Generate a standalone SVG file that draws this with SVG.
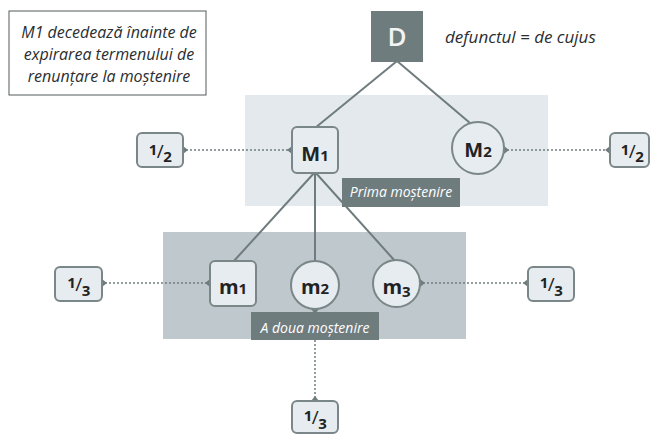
<svg xmlns="http://www.w3.org/2000/svg" width="650" height="434" viewBox="0 0 650 434">
<defs>
<style>
.panel1{fill:#e3e9ec}
.panel2{fill:#bfc8cc}
.edge{stroke:#6f7c7e;stroke-width:2;fill:none}
.dot{stroke:#6f7c7e;stroke-width:2;fill:none;stroke-dasharray:0 4;stroke-linecap:round;marker-start:url(#port);marker-end:url(#port)}
.node{fill:#e6ecef;stroke:#7a8688;stroke-width:2}
.nt{font-family:"Open Sans",Lato,"Liberation Sans",sans-serif;font-weight:bold;font-size:20px;fill:#1f2324;text-anchor:middle}
.frac{font-family:"Open Sans",Lato,"Liberation Sans",sans-serif;font-weight:bold;font-size:15px;fill:#1f2324;text-anchor:middle;letter-spacing:-0.5px}
.lab{fill:#6f7c7e}
.lt{font-family:"Open Sans",Lato,"Liberation Sans",sans-serif;font-style:italic;font-size:14px;fill:#ffffff;text-anchor:middle}
.it{font-family:"Open Sans",Lato,"Liberation Sans",sans-serif;font-style:italic;font-size:16px;fill:#2a2e30}
.it17{font-size:17px}
</style>
<marker id="port" viewBox="-5 -4 10 8" markerWidth="10" markerHeight="8" markerUnits="userSpaceOnUse" refX="0" refY="0" orient="auto">
<path d="M-5,0 L0,-4 L5,0 L0,4 Z" fill="#6f7c7e"/>
</marker>
</defs>

<g id="panels">
<rect class="panel1" x="245" y="95" width="303" height="111"/>
<rect class="panel2" x="163" y="232" width="303" height="107"/>
</g>

<g id="note">
<rect x="9" y="11" width="197" height="84" fill="#ffffff" stroke="#555b5d" stroke-width="1"/>
<text class="it" x="109" text-anchor="middle"><tspan x="109" y="38">M1 decedează înainte de</tspan><tspan x="109" y="60">expirarea termenului de</tspan><tspan x="109" y="82">renunțare la moștenire</tspan></text>
</g>

<g id="legend">
<text class="it it17" x="445" y="43">defunctul = de cujus</text>
</g>

<g id="connectors">
<line class="edge" x1="397" y1="61" x2="315" y2="128"/>
<line class="edge" x1="397" y1="61" x2="470" y2="123"/>
<line class="edge" x1="315" y1="172" x2="233" y2="262"/>
<line class="edge" x1="315" y1="172" x2="315" y2="261"/>
<line class="edge" x1="315" y1="172" x2="395" y2="261"/>
<line class="dot" x1="183" y1="150" x2="292" y2="150"/>
<line class="dot" x1="504" y1="150" x2="610" y2="150"/>
<line class="dot" x1="102" y1="283" x2="210" y2="283"/>
<line class="dot" x1="420" y1="283" x2="528" y2="283"/>
<line class="dot" x1="315" y1="309" x2="315" y2="401"/>
</g>

<g id="D">
<rect x="371" y="11" width="52" height="51" fill="#6f7c7e"/>
<text x="397" y="46" font-family="'Open Sans',Lato,'Liberation Sans',sans-serif" font-size="26" font-weight="600" fill="#f2f4f4" text-anchor="middle">D</text>
</g>

<g id="M1">
<rect class="node" x="292" y="127" width="46" height="46" rx="5"/>
<text class="nt" x="315" y="161">M<tspan font-size="15">1</tspan></text>
</g>

<g id="M2">
<circle class="node" cx="478" cy="148" r="26"/>
<text class="nt" x="478" y="157">M<tspan font-size="15">2</tspan></text>
</g>

<g id="label-prima">
<rect class="lab" x="342" y="178" width="118" height="29"/>
<text class="lt" x="401" y="197">Prima moștenire</text>
</g>

<g id="m1">
<rect class="node" x="210" y="261" width="46" height="45" rx="5"/>
<text class="nt" x="233" y="294">m<tspan font-size="15">1</tspan></text>
</g>

<g id="m2">
<circle class="node" cx="315" cy="285" r="24"/>
<text class="nt" x="315" y="294">m<tspan font-size="15">2</tspan></text>
</g>

<g id="m3">
<circle class="node" cx="396.5" cy="283.5" r="23.5"/>
<text class="nt" x="396.5" y="294">m<tspan font-size="15" dy="3">3</tspan></text>
</g>

<g id="label-adoua">
<rect class="lab" x="251" y="312" width="128" height="28"/>
<text class="lt" x="315" y="333">A doua moștenire</text>
</g>

<g id="frac-M1">
<rect class="node" x="137" y="133" width="46" height="34" rx="5"/>
<text class="frac" x="160" y="155">1<tspan font-weight="normal" font-size="19" dy="3">/</tspan><tspan dy="4">2</tspan></text>
</g>

<g id="frac-M2">
<rect class="node" x="610" y="133" width="39" height="34" rx="5"/>
<text class="frac" x="632" y="155">1<tspan font-weight="normal" font-size="19" dy="3">/</tspan><tspan dy="4">2</tspan></text>
</g>

<g id="frac-m1">
<rect class="node" x="55" y="267" width="47" height="34" rx="5"/>
<text class="frac" x="78.5" y="288">1<tspan font-weight="normal" font-size="19" dy="3">/</tspan><tspan dy="5">3</tspan></text>
</g>

<g id="frac-m3">
<rect class="node" x="528" y="267" width="46" height="34" rx="5"/>
<text class="frac" x="551" y="288">1<tspan font-weight="normal" font-size="19" dy="3">/</tspan><tspan dy="5">3</tspan></text>
</g>

<g id="frac-m2">
<rect class="node" x="292" y="401" width="46" height="32" rx="5"/>
<text class="frac" x="315" y="421">1<tspan font-weight="normal" font-size="19" dy="3">/</tspan><tspan dy="5">3</tspan></text>
</g>
</svg>
